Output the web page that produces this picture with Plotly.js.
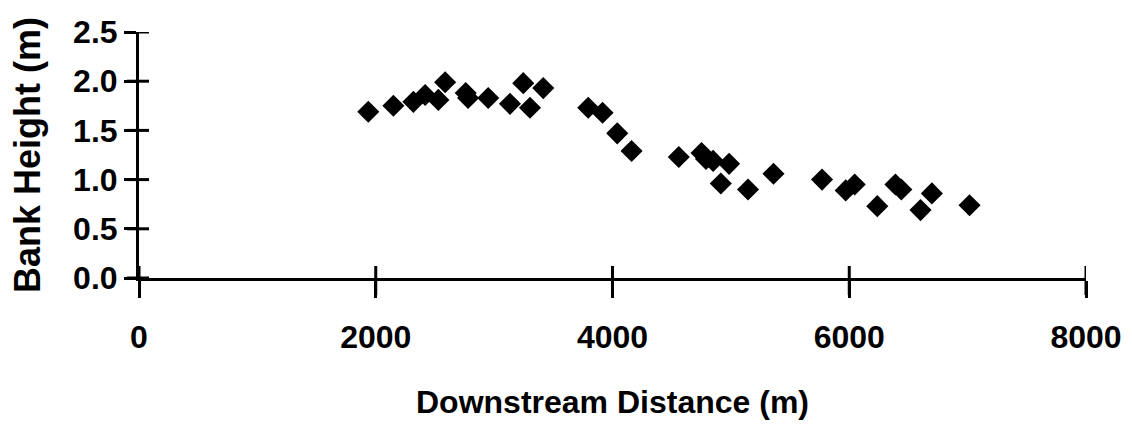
<!DOCTYPE html>
<html>
<head>
<meta charset="utf-8">
<script src="https://cdn.plot.ly/plotly-3.0.1.min.js"></script>
<style>html,body{margin:0;padding:0;background:#fff;}#chart{width:1132px;height:432px;}</style>
</head>
<body>
<div id="chart"></div>
<script>
const distance = [1937, 2149, 2318, 2417, 2529, 2586, 2760, 2780, 2950, 3134, 3246, 3303, 3415, 3795, 3916, 4040, 4161, 4560, 4752, 4790, 4850, 4915, 4985, 5145, 5360, 5770, 5970, 6046, 6237, 6390, 6440, 6602, 6698, 7016];
const bankHeight = [1.69, 1.75, 1.79, 1.86, 1.81, 1.99, 1.88, 1.83, 1.83, 1.77, 1.98, 1.73, 1.93, 1.73, 1.68, 1.47, 1.29, 1.23, 1.27, 1.21, 1.19, 0.96, 1.16, 0.90, 1.06, 1.00, 0.89, 0.95, 0.73, 0.95, 0.90, 0.69, 0.86, 0.74];
const xTicks = [0, 2000, 4000, 6000, 8000];
const yTicks = [0, 0.5, 1.0, 1.5, 2.0, 2.5];
const yTickText = ['0.0', '0.5', '1.0', '1.5', '2.0', '2.5'];
const xTitle = 'Downstream Distance (m)';
const yTitle = 'Bank Height (m)';

const font = 'Liberation Sans, Arial, sans-serif';

const traces = [
  {
    x: distance, y: bankHeight, type: 'scatter', mode: 'markers',
    marker: {symbol: 'diamond', size: 17, color: '#000'},
    showlegend: false, hoverinfo: 'skip'
  }
];

// tick marks that cross the axis lines (pixel-sized, anchored to the axis lines)
const tickStyle = {width: 3, color: '#000'};
const crossTicks = xTicks.map(t => ({
  type: 'line', xref: 'x', yref: 'paper', ysizemode: 'pixel', yanchor: 0,
  x0: t, x1: t, y0: -17, y1: 12, line: tickStyle, layer: 'above'
})).concat(yTicks.map(t => ({
  type: 'line', xref: 'paper', yref: 'y', xsizemode: 'pixel', xanchor: 0,
  x0: -12, x1: 10, y0: t, y1: t, line: tickStyle, layer: 'above'
})));

const layout = {
  width: 1132, height: 432,
  margin: {l: 139, r: 46, t: 32, b: 154},
  paper_bgcolor: '#fff', plot_bgcolor: '#fff',
  showlegend: false,
  shapes: crossTicks,
  xaxis: {
    range: [0, 8000], tickvals: xTicks, ticktext: xTicks.map(String),
    ticks: 'outside', ticklen: 17, tickwidth: 3, tickcolor: '#000',
    showline: true, linewidth: 3, linecolor: '#000',
    showgrid: false, zeroline: false, fixedrange: true,
    ticklabelstandoff: 12,
    tickfont: {family: font, size: 32, color: '#000', weight: 'bold'},
    title: {text: xTitle, standoff: 37, font: {family: font, size: 32, color: '#000', weight: 'bold'}}
  },
  yaxis: {
    range: [0, 2.5], tickvals: yTicks, ticktext: yTickText,
    ticks: 'outside', ticklen: 12, tickwidth: 3, tickcolor: '#000',
    showline: true, linewidth: 3, linecolor: '#000',
    showgrid: false, zeroline: false, fixedrange: true,
    ticklabelstandoff: 0,
    tickfont: {family: font, size: 32, color: '#000', weight: 'bold'},
    title: {text: yTitle, standoff: 22, font: {family: font, size: 36, color: '#000', weight: 'bold'}}
  }
};

Plotly.newPlot('chart', traces, layout, {displayModeBar: false, staticPlot: true});
</script>
</body>
</html>
